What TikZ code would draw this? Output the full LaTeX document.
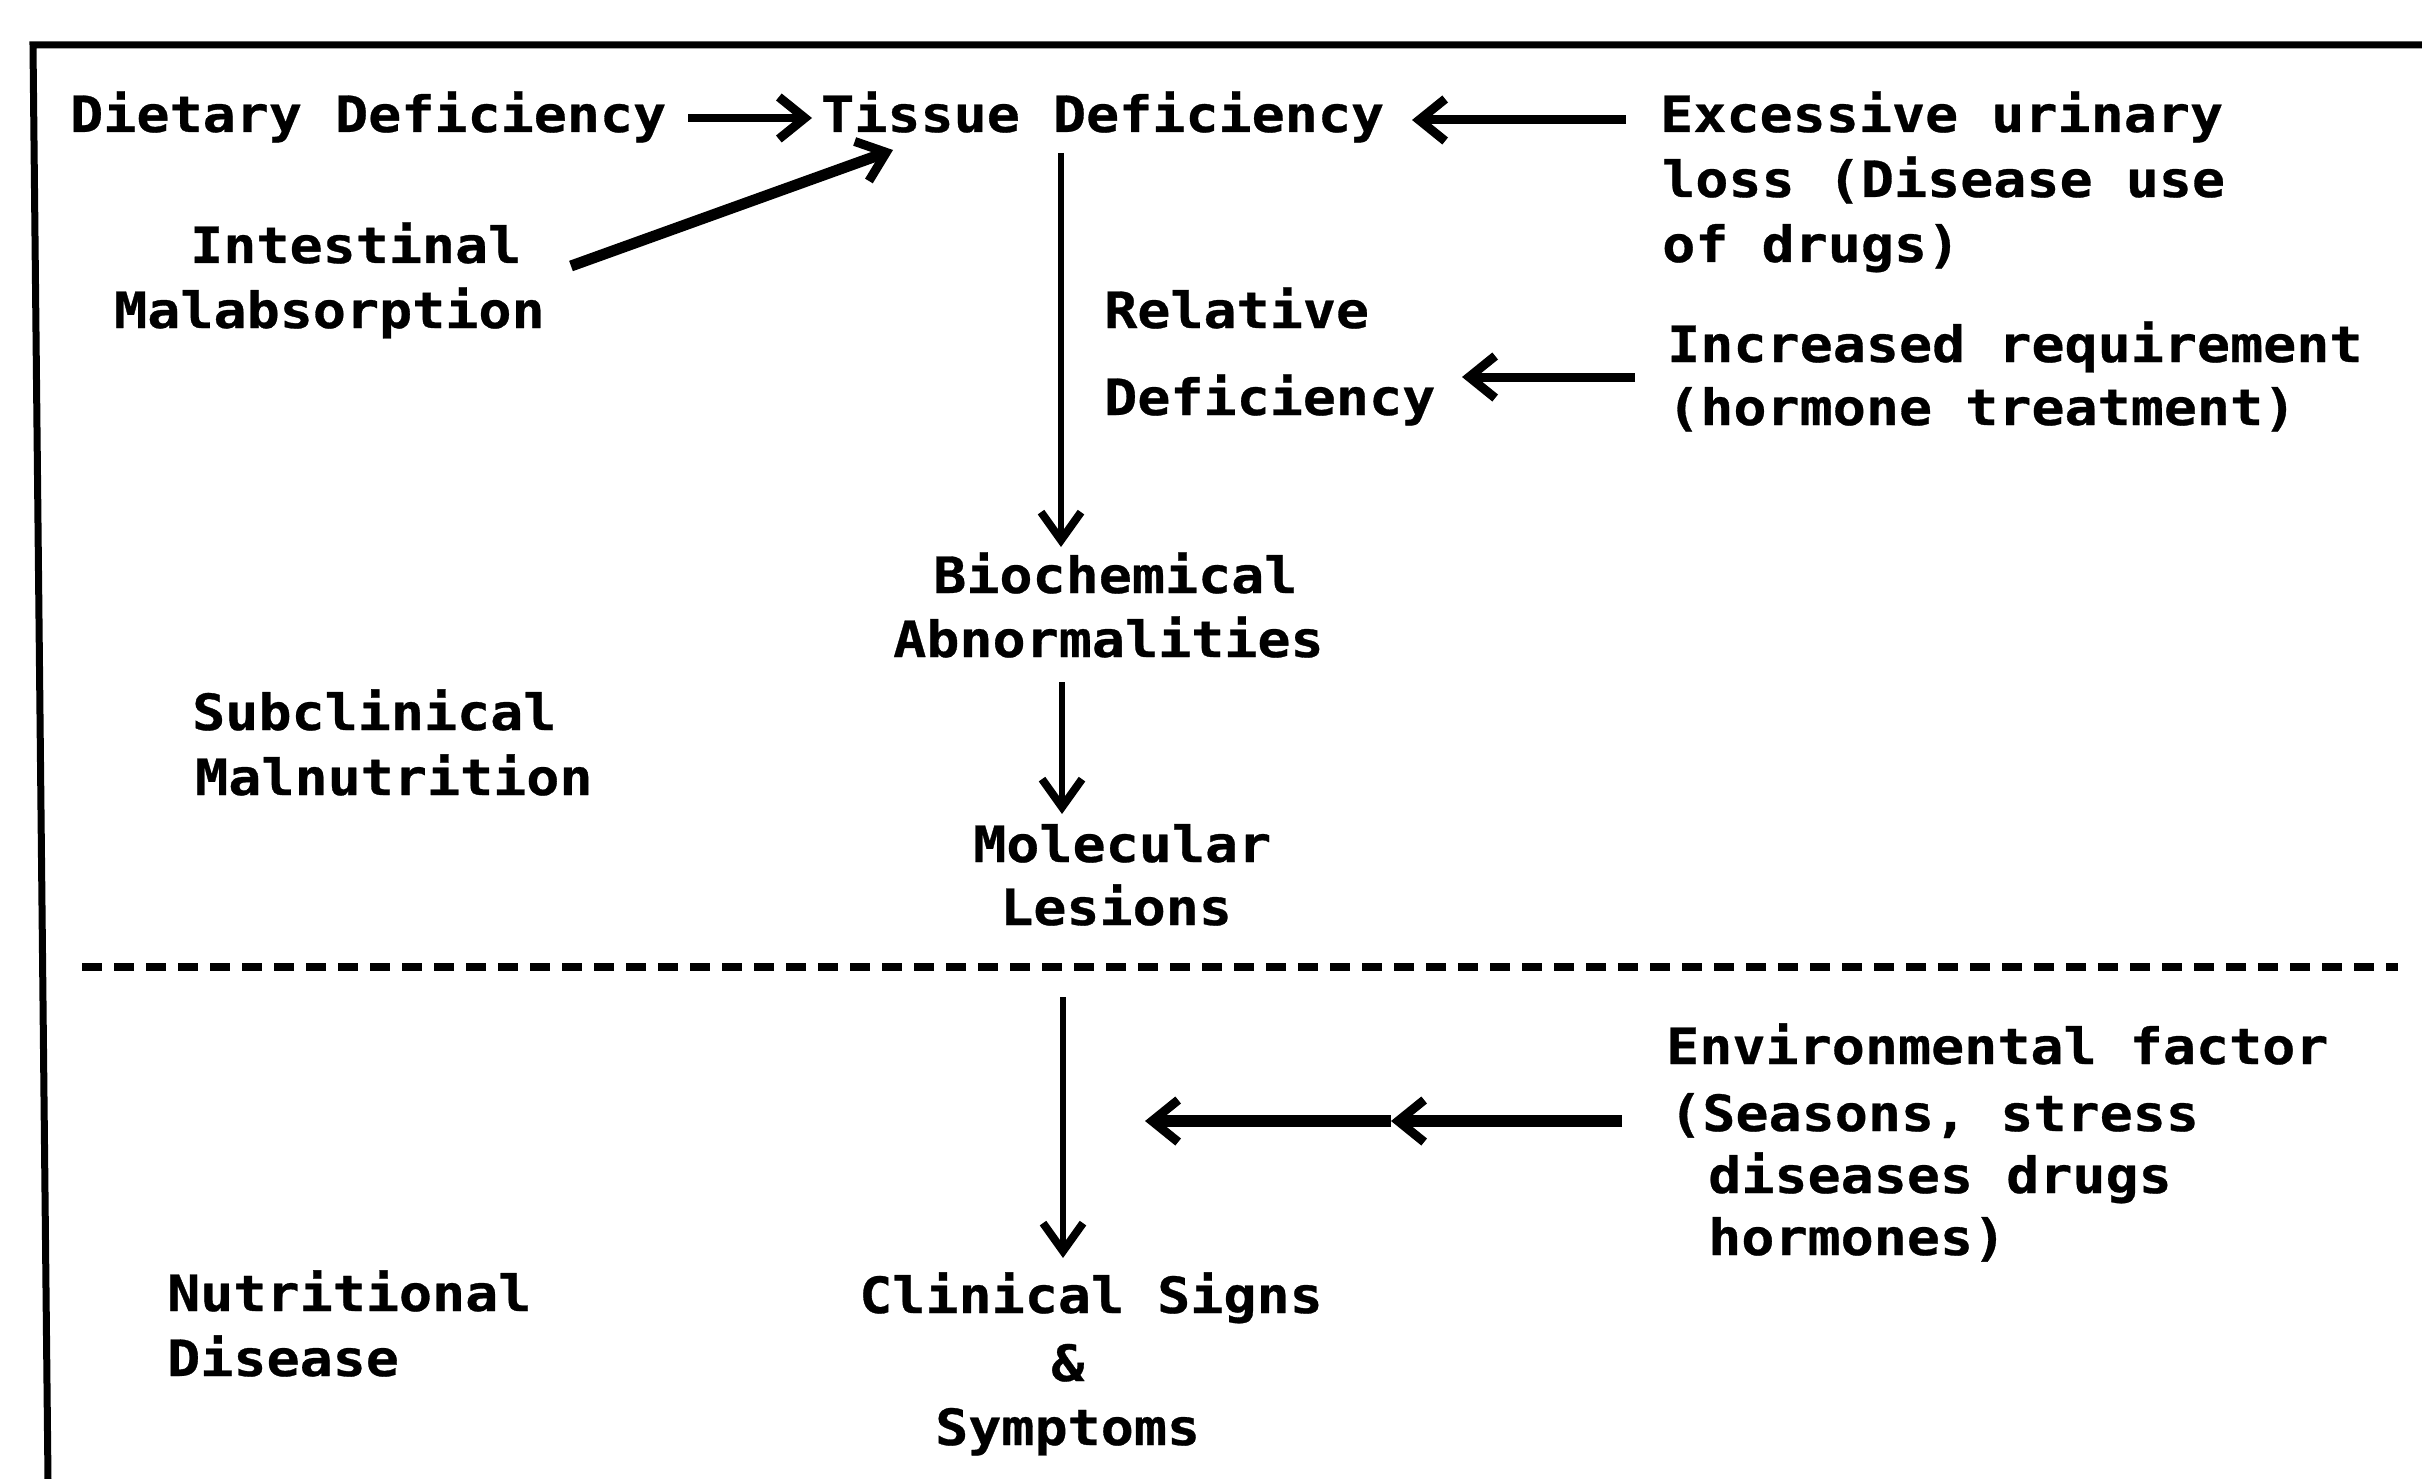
\documentclass[tikz,border=0pt]{standalone}
\usepackage{fontspec}
\newfontfamily\diagfont{DejaVu Sans Mono}[FakeStretch=1.1, BoldFeatures={FakeBold=0.6}]
\usetikzlibrary{arrows.meta}
\tikzset{
  txt/.style={font=\diagfont\bfseries\fontsize{50}{60}\selectfont, inner sep=0pt, anchor=base west},
  arr/.style={line width=9pt, -{Straight Barb[length=26pt,width=42pt,line width=9pt]}},
  varr/.style={line width=6pt, -{Straight Barb[length=28pt,width=40pt,line width=8pt]}},
  frame/.style={line width=7pt},
  sep/.style={line width=8pt, dash pattern=on 20pt off 12pt}
}
\begin{document}
\begin{tikzpicture}[x=1pt,y=-1pt]
\useasboundingbox (0,0) rectangle (2422,1479);
\fill[white] (0,0) rectangle (2422,1479);
% frame
\coordinate (fr1) at (2422,45);
\coordinate (fr2) at (33,45);
\coordinate (fr3) at (48,1479);
\draw[frame] (fr1) -- (fr2) -- (fr3);
% texts
\node[txt] (diet) at (70,132) {Dietary Deficiency};
\node[txt] (tissue) at (821,132) {Tissue Deficiency};
\node[txt] (exc1) at (1660,132) {Excessive urinary};
\node[txt] (exc2) at (1662,197) {loss (Disease use};
\node[txt] (exc3) at (1662,262) {of drugs)};
\node[txt] (int1) at (190,263) {Intestinal};
\node[txt] (int2) at (114,328) {Malabsorption};
\node[txt] (rel1) at (1104,328) {Relative};
\node[txt] (rel2) at (1104,415) {Deficiency};
\node[txt] (inc1) at (1667,362) {Increased requirement};
\node[txt] (inc2) at (1667,425) {(hormone treatment)};
\node[txt] (bio1) at (933,593) {Biochemical};
\node[txt] (bio2) at (893,657) {Abnormalities};
\node[txt] (sub1) at (192,730) {Subclinical};
\node[txt] (sub2) at (195,795) {Malnutrition};
\node[txt] (mol1) at (973,862) {Molecular};
\node[txt] (mol2) at (1000,925) {Lesions};
\node[txt] (env1) at (1666,1064) {Environmental factor};
\node[txt] (env2) at (1669,1131) {(Seasons, stress};
\node[txt] (env3) at (1708,1193) {diseases drugs};
\node[txt] (env4) at (1708,1255) {hormones)};
\node[txt] (nut1) at (167,1311) {Nutritional};
\node[txt] (nut2) at (167,1376) {Disease};
\node[txt] (cl1) at (859,1313) {Clinical Signs};
\node[txt] (cl2) at (1051,1381) {\&};
\node[txt] (cl3) at (935,1445) {Symptoms};
% arrow coordinates
\coordinate (a1s) at (688,118);
\coordinate (a1e) at (812,118);
\coordinate (a2s) at (1626,120);
\coordinate (a2e) at (1412,120);
\coordinate (dgs) at (571,266);
\coordinate (dge) at (893,150);
\coordinate (v1s) at (1061,153);
\coordinate (v1e) at (1061,547);
\coordinate (a3s) at (1635,377);
\coordinate (a3e) at (1462,377);
\coordinate (v2s) at (1062,682);
\coordinate (v2e) at (1062,814);
\coordinate (v3s) at (1063,997);
\coordinate (v3e) at (1063,1258);
\coordinate (a4s) at (1622,1121);
\coordinate (a4m) at (1391,1121);
\coordinate (a4e) at (1145,1121);
\coordinate (ds) at (82,967);
\coordinate (de) at (2398,967);
% connectors
\draw[arr, line width=8pt] (a1s) -- (a1e);
\draw[arr] (a2s) -- (a2e);
\draw[arr, line width=11pt] (dgs) -- (dge);
\draw[varr] (v1s) -- (v1e);
\draw[arr] (a3s) -- (a3e);
\draw[varr] (v2s) -- (v2e);
\draw[varr] (v3s) -- (v3e);
\draw[arr, line width=12pt] (a4s) -- (a4m);
\draw[arr, line width=12pt] (a4m) -- (a4e);
\draw[sep] (ds) -- (de);
\end{tikzpicture}
\end{document}
